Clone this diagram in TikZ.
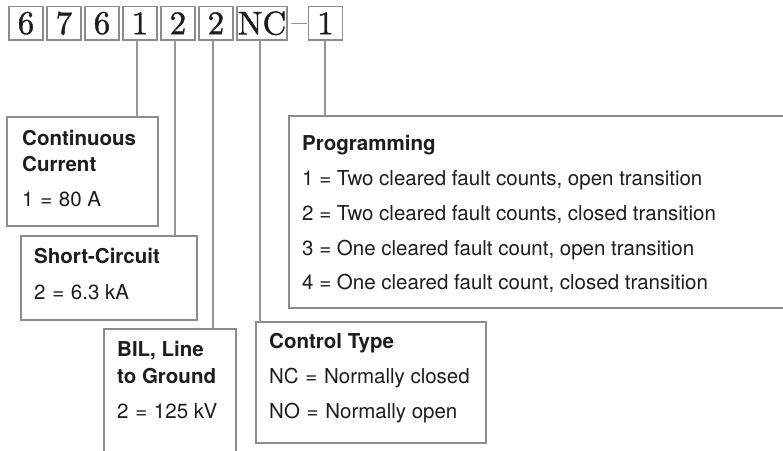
\documentclass[tikz,border=0pt]{standalone}
\usepackage{fontspec}
\newfontfamily\hv{TeX Gyre Heros}
\newfontfamily\numfont{lmroman10-regular}[Extension=.otf, FakeBold=1.2]
\definecolor{boxgray}{RGB}{140,140,140}
\definecolor{linegray}{RGB}{150,150,150}
\definecolor{ink}{RGB}{30,28,28}
\tikzset{
  digitbox/.style={draw=boxgray, line width=1.6pt, inner sep=0pt, outer sep=0pt,
    minimum width=34pt, minimum height=33.5pt, text=ink,
    font=\fontsize{33}{36}\numfont},
  descbox/.style={draw=boxgray, line width=2pt, inner sep=0pt, outer sep=0pt, anchor=north west},
  conn/.style={draw=linegray, line width=1.4pt},
  ttl/.style={anchor=base west, inner sep=0pt, text=ink, font=\fontsize{20.5}{24}\hv\bfseries},
  txt/.style={anchor=base west, inner sep=0pt, text=ink, font=\fontsize{20.5}{24}\hv},
}
\newcommand{\eqs}{\kern1pt=\kern1pt{}}
\begin{document}
\begin{tikzpicture}[x=1pt,y=-1pt]
\useasboundingbox (0,0) rectangle (783,450);
\clip (0,0) rectangle (783,450);
\fill[white] (0,0) rectangle (783,450);
% catalogue number boxes
\node[digitbox] (d1) at (26,23.25) {6};
\node[digitbox] (d2) at (64,23.25) {7};
\node[digitbox] (d3) at (102,23.25) {6};
\node[digitbox] (d4) at (140,23.25) {1};
\node[digitbox] (d5) at (178,23.25) {2};
\node[digitbox] (d6) at (216,23.25) {2};
\node[digitbox, minimum width=50pt] (nc) at (262,23.25) {NC};
\node[digitbox] (p1) at (325.5,23.25) {1};
\draw[conn] ([xshift=4pt]nc.east) -- ([xshift=-2pt]p1.west);
% description boxes
\node[descbox, minimum width=151pt, minimum height=109pt] (cc) at (7,117) {};
\node[descbox, minimum width=176pt, minimum height=84pt] (sc) at (21,236) {};
\node[descbox, minimum width=132pt, minimum height=200pt] (bil) at (104,329) {};
\node[descbox, minimum width=230pt, minimum height=121pt] (ct) at (256,322) {};
\node[descbox, minimum width=600pt, minimum height=192pt] (pr) at (289,116) {};
% connector x positions
\coordinate (x4) at (137,0);
\coordinate (x5) at (175,0);
\coordinate (x6) at (213,0);
\coordinate (xn) at (260,0);
\coordinate (xp) at (325,0);
\draw[conn] (d4.south -| x4) -- (cc.north -| x4);
\draw[conn] (d5.south -| x5) -- (sc.north -| x5);
\draw[conn] (d6.south -| x6) -- (bil.north -| x6);
\draw[conn] (nc.south -| xn) -- (ct.north -| xn);
\draw[conn] (p1.south -| xp) -- (pr.north -| xp);
% texts
\node[ttl] (cct1) at (22,145) {Continuous};
\node[ttl] (cct2) at (22,171) {Current};
\node[txt] (ccv) at (22,206) {1 \eqs{} 80 A};
\node[ttl] (sct) at (34,263) {Short-Circuit};
\node[txt] (scv) at (34,299) {2 \eqs{} 6.3 kA};
\node[ttl] (bt1) at (117,356) {BIL, Line};
\node[ttl] (bt2) at (117,383) {to Ground};
\node[txt] (bv) at (117,418) {2 \eqs{} 125 kV};
\node[ttl] (ctt) at (269,348) {Control Type};
\node[txt] (ctv1) at (269,383) {NC \eqs{} Normally closed};
\node[txt] (ctv2) at (269,418) {NO \eqs{} Normally open};
\node[ttl] (prt) at (302,150) {Programming};
\node[txt] (pr1) at (302,185) {1 = Two cleared fault counts, open transition};
\node[txt] (pr2) at (302,220) {2 = Two cleared fault counts, closed transition};
\node[txt] (pr3) at (302,255) {3 = One cleared fault count, open transition};
\node[txt] (pr4) at (302,289) {4 = One cleared fault count, closed transition};
\end{tikzpicture}
\end{document}
